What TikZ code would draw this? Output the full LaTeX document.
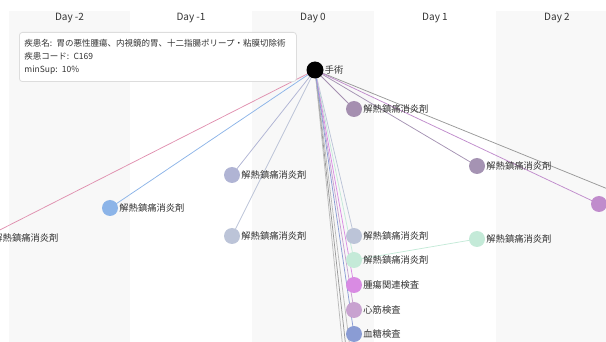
\documentclass[tikz,border=0pt]{standalone}
\usepackage{fontspec}
\setmainfont{Noto Sans CJK JP}
\definecolor{bgc}{HTML}{F8F8F8}
\definecolor{txtc}{HTML}{333333}
\definecolor{boxc}{HTML}{DDDDDD}
\definecolor{cpg}{HTML}{A58FB0}
\definecolor{cpg2}{HTML}{A593B3}
\definecolor{cpur}{HTML}{C08CCC}
\definecolor{clav}{HTML}{B0B4D4}
\definecolor{cblue}{HTML}{8CB4E8}
\definecolor{cpink}{HTML}{E091B0}
\definecolor{cgb}{HTML}{BCC4D8}
\definecolor{cmint}{HTML}{C4EAD8}
\definecolor{cmag}{HTML}{D98BE3}
\definecolor{clpur}{HTML}{C8A2D0}
\definecolor{cdblue}{HTML}{8A9CD4}
\definecolor{cgray}{HTML}{999999}
\definecolor{cgray2}{HTML}{BBBBBB}
\begin{document}
\begin{tikzpicture}[x=1pt,y=-1pt,
  dot/.style={circle, minimum size=16pt, inner sep=0pt, draw=none},
  lbl/.style={anchor=west, inner sep=1pt, font=\fontsize{9.3}{10}\selectfont, text=txtc},
  day/.style={font=\fontsize{10}{12}\selectfont, text=txtc},
  edge/.style={line width=0.75pt}]
\useasboundingbox (0,0) rectangle (606,342);
\begin{scope}
\clip (0,0) rectangle (606,342);
% column shading
\fill[bgc] (9,11) rectangle (130,342);
\fill[bgc] (252,11) rectangle (374,342);
\fill[bgc] (496,11) rectangle (620,342);
% day labels
\node[day] (dm2) at (69.5,18) {Day -2};
\node[day] (dm1) at (191,18) {Day -1};
\node[day] (d0) at (313,18) {Day 0};
\node[day] (d1) at (435,18) {Day 1};
\node[day] (d2) at (557,18) {Day 2};
% node positions
\coordinate (op) at (315,70);
\coordinate (n1) at (354,109);
\coordinate (n2) at (477,166);
\coordinate (n3) at (599,204);
\coordinate (n4) at (232,175);
\coordinate (n5) at (110,208);
\coordinate (n6) at (-16,238);
\coordinate (n7) at (232,236);
\coordinate (n8) at (354,236);
\coordinate (n9) at (354,260);
\coordinate (n10) at (477,239);
\coordinate (n11) at (354,285);
\coordinate (n12) at (354,310);
\coordinate (n13) at (354,334);
\coordinate (x1) at (721,235);
\coordinate (g1) at (354,380);
\coordinate (g2) at (354,420);
\coordinate (g3) at (354,460);
% edges
\draw[edge, cgray] (op) -- (x1);
\draw[edge, cgray2] (op) -- (g1);
\draw[edge, cgray] (op) -- (g2);
\draw[edge, cgray2] (op) -- (g3);
\draw[edge, cpink] (op) -- (n6);
\draw[edge, cblue] (op) -- (n5);
\draw[edge, clav] (op) -- (n4);
\draw[edge, cgb] (op) -- (n7);
\draw[edge, cpg] (op) -- (n1);
\draw[edge, cpg2] (op) -- (n2);
\draw[edge, cpur] (op) -- (n3);
\draw[edge, cgb] (op) -- (n8);
\draw[edge, cmint] (op) -- (n9);
\draw[edge, cmint] (n9) -- (n10);
\draw[edge, cmag] (op) -- (n11);
\draw[edge, clpur] (op) -- (n12);
\draw[edge, cdblue] (op) -- (n13);
% nodes
\node[dot, fill=black, minimum size=17pt] (opn) at (op) {};
\node[lbl] (opl) at (opn.east) {手術};
\node[dot, fill=cpg] (n1n) at (n1) {};
\node[lbl] (n1l) at (n1n.east) {解熱鎮痛消炎剤};
\node[dot, fill=cpg2] (n2n) at (n2) {};
\node[lbl] (n2l) at (n2n.east) {解熱鎮痛消炎剤};
\node[dot, fill=cpur] (n3n) at (n3) {};
\node[dot, fill=clav] (n4n) at (n4) {};
\node[lbl] (n4l) at (n4n.east) {解熱鎮痛消炎剤};
\node[dot, fill=cblue] (n5n) at (n5) {};
\node[lbl] (n5l) at (n5n.east) {解熱鎮痛消炎剤};
\node[dot, fill=cpink] (n6n) at (n6) {};
\node[lbl] (n6l) at (n6n.east) {解熱鎮痛消炎剤};
\node[dot, fill=cgb] (n7n) at (n7) {};
\node[lbl] (n7l) at (n7n.east) {解熱鎮痛消炎剤};
\node[dot, fill=cgb] (n8n) at (n8) {};
\node[lbl] (n8l) at (n8n.east) {解熱鎮痛消炎剤};
\node[dot, fill=cmint] (n9n) at (n9) {};
\node[lbl] (n9l) at (n9n.east) {解熱鎮痛消炎剤};
\node[dot, fill=cmint] (n10n) at (n10) {};
\node[lbl] (n10l) at (n10n.east) {解熱鎮痛消炎剤};
\node[dot, fill=cmag] (n11n) at (n11) {};
\node[lbl] (n11l) at (n11n.east) {腫瘍関連検査};
\node[dot, fill=clpur] (n12n) at (n12) {};
\node[lbl] (n12l) at (n12n.east) {心筋検査};
\node[dot, fill=cdblue] (n13n) at (n13) {};
\node[lbl] (n13l) at (n13n.east) {血糖検査};
% info box
\node[draw=boxc, line width=0.8pt, fill=white, rounded corners=3pt, anchor=north west,
  inner xsep=5pt, inner ysep=7pt, text width=267pt, align=left, text=txtc,
  font=\fontsize{8.5}{13}\selectfont] (info) at (19,32)
  {疾患名: 胃の悪性腫瘍、内視鏡的胃、十二指腸ポリープ・粘膜切除術\\疾患コード: C169\\minSup: 10\%};
\end{scope}
\end{tikzpicture}
\end{document}
